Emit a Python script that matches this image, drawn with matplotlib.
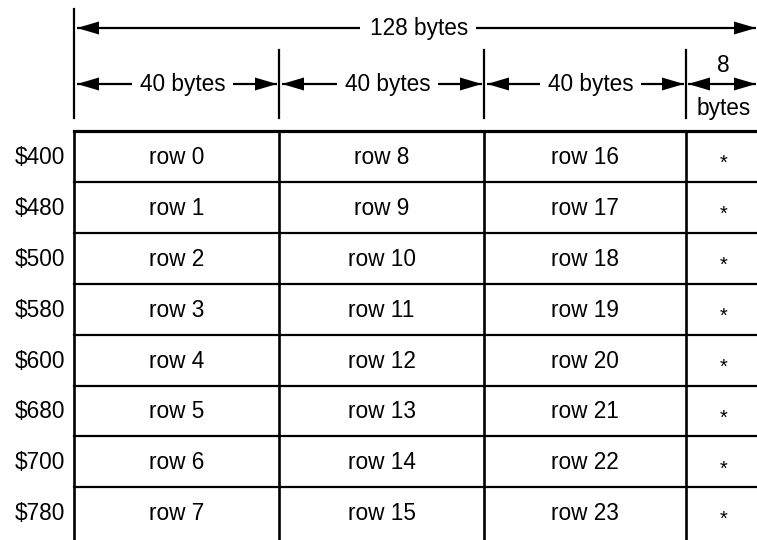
import matplotlib

matplotlib.use("Agg")
import matplotlib.pyplot as plt  # noqa: E402

# Text page layout: 8 base addresses, 3 groups of 40 bytes + 8 spare bytes
addresses = ["$400", "$480", "$500", "$580", "$600", "$680", "$700", "$780"]
group_bytes = [40, 40, 40, 8]
total_bytes = 128
rows_a = ["row 0", "row 1", "row 2", "row 3", "row 4", "row 5", "row 6", "row 7"]
rows_b = ["row 8", "row 9", "row 10", "row 11", "row 12", "row 13", "row 14", "row 15"]
rows_c = ["row 16", "row 17", "row 18", "row 19", "row 20", "row 21", "row 22", "row 23"]
spare = ["*"] * 8

# layout (pixel space of the 757x540 canvas)
W, H = 757, 540
col_edges = [74, 279, 484, 686, 757]
table_top = 131
row_h = 50.9
FONT = "Liberation Sans"
FS = 16.3
LW = 1.6


def head(ax, x, y, direction, length=22, half=6.5):
    # filled triangular arrow head, tip at (x, y)
    bx = x - direction * length
    ax.fill([x, bx, bx], [y, y - half, y + half], color="black", lw=0)


def harrow(ax, x0, x1, y, left=False, right=False):
    ax.plot([x0, x1], [y, y], color="black", lw=LW, solid_capstyle="butt")
    if left:
        head(ax, x0, y, -1)
    if right:
        head(ax, x1, y, 1)


fig = plt.figure(figsize=(W / 100, H / 100), dpi=100)
ax = fig.add_axes([0, 0, 1, 1])
ax.set_xlim(0, W)
ax.set_ylim(H, 0)
ax.axis("off")

# --- header dimension lines ---
ax.plot([col_edges[0]] * 2, [9, 118], color="black", lw=LW)
for x in col_edges[1:4]:
    ax.plot([x, x], [50, 118], color="black", lw=LW)

y_total = 28
ax.text(419, y_total, f"{total_bytes} bytes", ha="center", va="center",
        fontsize=FS, family=FONT)
harrow(ax, col_edges[0] + 3, 360, y_total, left=True)
harrow(ax, 476, W - 1, y_total, right=True)

y_grp = 84
for i, nb in enumerate(group_bytes[:3]):
    x0, x1 = col_edges[i], col_edges[i + 1]
    cx = (x0 + x1) / 2 + 6
    ax.text(cx, y_grp, f"{nb} bytes", ha="center", va="center",
            fontsize=FS, family=FONT)
    harrow(ax, x0 + 3, cx - 51, y_grp, left=True)
    harrow(ax, cx + 50, x1 - 2, y_grp, right=True)

# last (8 byte) group: stacked label with double arrow
cx = (col_edges[3] + col_edges[4]) / 2 + 2
harrow(ax, col_edges[3] + 2, W - 1, y_grp, left=True, right=True)
ax.text(cx, 65, f"{group_bytes[3]}", ha="center", va="center",
        fontsize=FS, family=FONT)
ax.text(cx, 108, "bytes", ha="center", va="center", fontsize=FS, family=FONT)

# --- table ---
n = len(addresses)
ax.plot([col_edges[0], W], [table_top, table_top], color="black", lw=LW + 0.7)
for i in range(1, n):
    y = table_top + i * row_h
    ax.plot([col_edges[0], W], [y, y], color="black", lw=LW)
for x in col_edges[:4]:
    ax.plot([x, x], [table_top, H], color="black", lw=LW + 0.3)

columns = [rows_a, rows_b, rows_c]
for i, addr in enumerate(addresses):
    yc = table_top + (i + 0.5) * row_h + 1
    ax.text(65, yc, addr, ha="right", va="center", fontsize=FS, family=FONT)
    for j, col in enumerate(columns):
        xc = (col_edges[j] + col_edges[j + 1]) / 2
        ax.text(xc, yc, col[i], ha="center", va="center", fontsize=FS, family=FONT)
    ax.text((col_edges[3] + col_edges[4]) / 2 + 2, yc + 6, spare[i],
            ha="center", va="center", fontsize=FS - 2, family=FONT)

fig.savefig("out.png", dpi=100, facecolor="white")
